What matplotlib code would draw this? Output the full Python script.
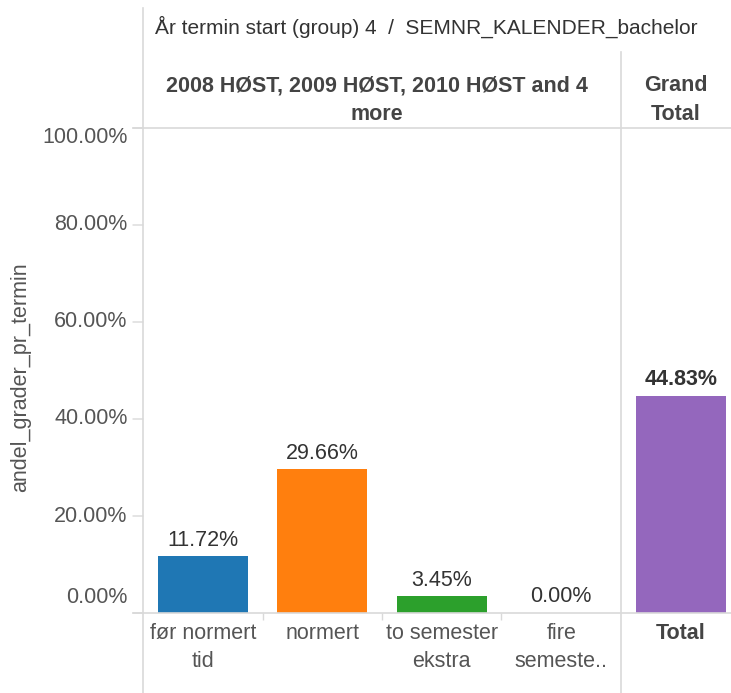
import matplotlib
matplotlib.use("Agg")
import matplotlib.pyplot as plt
from matplotlib.lines import Line2D

plt.rcParams['font.family'] = ['Liberation Sans', 'DejaVu Sans']

# Data
categories = ["før normert\ntid", "normert", "to semester\nekstra", "fire\nsemeste.."]
values = [11.72, 29.66, 3.45, 0.00]
colors = ["#1f77b4", "#ff7f0e", "#2ca02c", "#9467bd"]
total_label = ["Total"]
total_value = [44.83]
total_color = "#9467bd"
y_ticks = [0, 20, 40, 60, 80, 100]

title_text = "År termin start (group) 4  /  SEMNR_KALENDER_bachelor"
col_header = "2008 HØST, 2009 HØST, 2010 HØST and 4\nmore"
total_header = "Grand\nTotal"
y_label = "andel_grader_pr_termin"

W, H = 731, 693
fig = plt.figure(figsize=(W / 100, H / 100), dpi=100)

def fx(px):
    return px / W

def fy(py):
    return 1 - py / H

line_col = "#d9d9d9"
text_col = "#555555"
head_col = "#444444"
fs = 15.5

# Axes in pixel layout
top, base = 128, 613
ax1 = fig.add_axes([fx(143), fy(base), fx(621) - fx(143), fy(top) - fy(base)])
ax2 = fig.add_axes([fx(621), fy(base), fx(741) - fx(621), fy(top) - fy(base)])

ax1.bar(range(len(values)), values, width=0.75, color=colors[:len(values)])
ax2.bar(range(len(total_value)), total_value, width=0.75, color=total_color)

for ax in (ax1, ax2):
    ax.set_ylim(0, 100)
    for s in ax.spines.values():
        s.set_visible(False)
    ax.set_yticks([])
    ax.patch.set_alpha(0)

ax1.set_xlim(-0.5, len(values) - 0.5)
ax2.set_xlim(-0.5, 0.5)

# bar labels
ax1.bar_label(ax1.containers[0], labels=[f"{v:.2f}%" for v in values],
              padding=4, fontsize=fs, color="#333333")
ax2.bar_label(ax2.containers[0], labels=[f"{v:.2f}%" for v in total_value],
              padding=4, fontsize=fs, color="#333333", fontweight="bold")

# x ticks
ax1.set_xticks(range(len(categories)))
ax1.set_xticklabels(categories, fontsize=fs, color=text_col, linespacing=1.45)
ax1.tick_params(axis="x", length=0, pad=7)
ax1.set_xticks([i + 0.5 for i in range(len(categories) - 1)], minor=True)
ax1.tick_params(axis="x", which="minor", length=5, color=line_col, width=1)

ax2.set_xticks(range(len(total_label)))
ax2.set_xticklabels(total_label, fontsize=fs, color=head_col, fontweight="bold")
ax2.tick_params(axis="x", length=0, pad=7)

# y tick labels and tick marks (drawn manually to nudge end labels inward)
for v in y_ticks:
    off = 0
    if v == y_ticks[0]:
        off = 11
    elif v == y_ticks[-1]:
        off = -7
    ax1.annotate(f"{v:.2f}%", xy=(0, v), xycoords=("axes fraction", "data"),
                 xytext=(-11, off), textcoords="offset points",
                 ha="right", va="center", fontsize=fs, color=text_col)
    ax1.annotate("", xy=(0, v), xycoords=("axes fraction", "data"),
                 xytext=(-7.2, 0), textcoords="offset points",
                 arrowprops=dict(arrowstyle="-", color=line_col, lw=1,
                                 shrinkA=0, shrinkB=0))

fig.text(fx(21), fy(377), y_label, rotation=90, ha="center", va="center",
         fontsize=fs, color=text_col)

# frame lines
lines = [
    ((143, 143), (8, 693)),
    ((621, 621), (52, 693)),
    ((133, 731), (top, top)),
    ((133, 731), (base, base)),
]
for xs, ys in lines:
    fig.add_artist(Line2D([fx(x) for x in xs], [fy(y) for y in ys],
                          color=line_col, lw=1.2, transform=fig.transFigure))

# headers
fig.text(fx(155), fy(27), title_text, ha="left", va="center",
         fontsize=15, color="#333333")
fig.text(fx(377), fy(100), col_header, ha="center", va="center",
         fontsize=fs, color=head_col, fontweight="bold", linespacing=1.45)
fig.text(fx(676), fy(100), total_header, ha="center", va="center",
         fontsize=fs, color=head_col, fontweight="bold", linespacing=1.45)

fig.savefig("out.png", dpi=100)
